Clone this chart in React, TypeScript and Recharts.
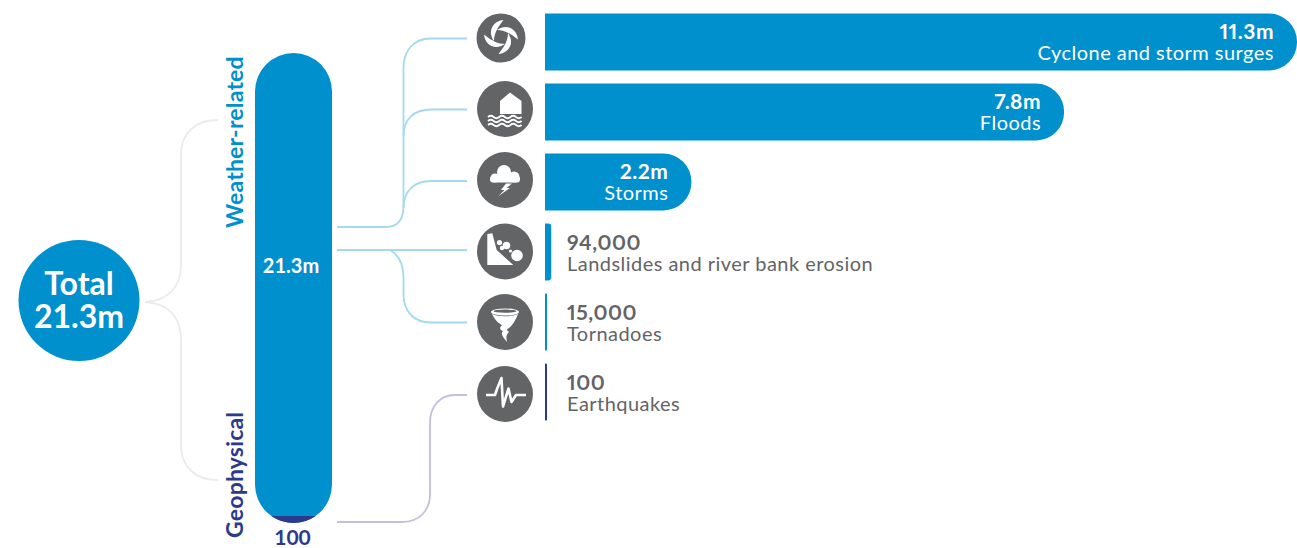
import { Bar, BarChart, Cell, LabelList, XAxis, YAxis } from 'recharts';

const hazards = [
  'Cyclone and storm surges',
  'Floods',
  'Storms',
  'Landslides and river bank erosion',
  'Tornadoes',
  'Earthquakes',
];
const displaced = [11300000, 7800000, 2200000, 94000, 15000, 100];
const displacedLabels = ['11.3m', '7.8m', '2.2m', '94,000', '15,000', '100'];

const groupName = 'Total';
const weatherTotal = 21300000;
const geophysicalTotal = 100;
const totalLabel = '21.3m';

const BLUE = '#0090cd';
const NAVY = '#2b3a8c';
const GREY = '#636466';
const FONT = 'Lato, "Open Sans", sans-serif';

const barColors = [BLUE, BLUE, BLUE, BLUE, BLUE, NAVY];
const insideCount = 3;

const hazardRows = hazards.map((name, i) => ({ name, value: displaced[i], label: displacedLabels[i] }));
const groupRows = [{ name: groupName, weather: weatherTotal, geophysical: geophysicalTotal }];

// Two line caption: inside the long bars, to the right of the short ones
function HazardLabel(props: any) {
  const { x, y, width, height, index } = props;
  const inside = index < insideCount;
  const tx = inside ? x + width - 23 : 567;
  const cy = y + height / 2 + (inside ? 0 : 0.7);
  const fill = inside ? '#fff' : GREY;
  const anchor = inside ? 'end' : 'start';
  return (
    <g fontFamily={FONT} textAnchor={anchor} fill={fill}>
      <text
        x={tx}
        y={cy - 3}
        fontSize={21}
        fontWeight={700}
        letterSpacing={0.5}
        style={{ fontVariantNumeric: 'proportional-nums' }}
      >
        {displacedLabels[index]}
      </text>
      <text x={tx} y={cy + 18} fontSize={20} letterSpacing={0.47}>
        {hazards[index]}
      </text>
    </g>
  );
}

// Segment of the pill's bottom end cap
function EndCap(props: any) {
  const { x, y, width, height } = props;
  const r = width / 2;
  const half = Math.sqrt(r * r - (r - height) * (r - height));
  const mid = x + r;
  return <path d={`M${mid - half},${y} A${r},${r} 0 0 0 ${mid + half},${y} Z`} fill={NAVY} />;
}

function Connectors() {
  return (
    <g fill="none" strokeWidth={1.8}>
      <g stroke="#a4d9f0">
        <path d="M337,227 H386 C398,227 403.5,219 403.5,206 V68 C403.5,50 414,38.5 431,38.5 H467" />
        <path d="M403.5,136 C403.5,119 414,109.5 431,109.5 H467" />
        <path d="M403.5,208 C403.5,191 414,181 431,181 H467" />
        <path d="M337,250 H467" />
        <path d="M390,250 C399,255 403.5,265 403.5,278 V294 C403.5,312 414,322.5 431,322.5 H467" />
      </g>
      <path d="M337,522 H402 C420,522 430,510 430,494 V423 C430,406 440,395 455,395 H467" stroke="#c4bee0" />
      <g stroke="#ebebeb">
        <path d="M218,120 C195,120 181,133 181,155 V265 C181,287 168,301 145,302" />
        <path d="M145,302 C168,303 181,317 181,340 V445 C181,467 195,480 218,480" />
      </g>
    </g>
  );
}

function CycloneIcon() {
  return (
    <g transform="translate(501,37)">
      <circle r={24.5} cy={1} fill={GREY} />
      {[0, 90, 180, 270].map((a) => (
        <path key={a} transform={`rotate(${a})`} d="M2.5,-17 C-8,-16 -14,-6 -7,4 C-7,-3 -4,-9 2.5,-17 Z" fill="#fff" />
      ))}
    </g>
  );
}

function FloodIcon() {
  const wave = (y: number) => `M-17,${y} q2.8,-2.4 5.6,0 t5.6,0 t5.6,0 t5.6,0 t5.6,0 t5.6,0`;
  return (
    <g transform="translate(505,109)">
      <circle r={28} fill={GREY} />
      <path d="M5,-16.5 L16.5,-8 V5 H-5 V-8 Z" fill="#fff" />
      <g fill="none" stroke="#fff" strokeWidth={1.8}>
        <path d={wave(8)} />
        <path d={wave(12)} />
        <path d={wave(16)} />
      </g>
    </g>
  );
}

function StormIcon() {
  return (
    <g transform="translate(505,180)">
      <circle r={28} fill={GREY} />
      <g fill="#fff">
        <circle cx={-1} cy={-8} r={7} />
        <circle cx={-10} cy={-2} r={4.5} />
        <circle cx={9} cy={-3} r={5.5} />
        <rect x={-15} y={-4} width={30} height={6.5} rx={3} />
        <path d="M1,3.5 L-4,10 L-0.5,10 L-7,16.5 L5,8 L1.5,8 L7,3.5 Z" />
      </g>
    </g>
  );
}

function LandslideIcon() {
  return (
    <g transform="translate(505,251.5)">
      <circle r={28} fill={GREY} />
      <g fill="#fff">
        <path d="M-17.7,-17.5 L-12.7,-18.2 L-8.3,-1.5 L8.3,13.5 H-17.7 Z" />
        <circle cx={-5.5} cy={-9} r={2.6} />
        <circle cx={-3} cy={-3.5} r={2.2} />
        <circle cx={1.5} cy={-6} r={3.8} />
        <circle cx={12} cy={4} r={5.8} />
        <circle cx={5.5} cy={-0.5} r={1.6} />
      </g>
    </g>
  );
}

function TornadoIcon() {
  return (
    <g transform="translate(505,322)">
      <circle r={28} fill={GREY} />
      <ellipse cy={-10} rx={14} ry={3.6} fill="#fff" />
      <ellipse cy={-10.8} rx={11.5} ry={1.6} fill={GREY} />
      <path
        d="M-13,-8 C-10,-2 -7,1 -3,3 C-6,6 -5,8 -2,9 C-5,12 -2,15 2,20 C1,15 1,13 4,10 C1,8 2,7 4,6 C8,3 11,-3 13,-8 C6,-5 -6,-5 -13,-8 Z"
        fill="#fff"
      />
    </g>
  );
}

function QuakeIcon() {
  return (
    <g transform="translate(505,394)">
      <circle r={28} fill={GREY} />
      <path
        d="M-19,1 H-10 L-8,-5 L-3.5,-16 L-2,12.5 L3.5,-5.5 L6.5,8 L11,1 H21"
        fill="none"
        stroke="#fff"
        strokeWidth={2.6}
        strokeLinejoin="round"
      />
    </g>
  );
}

export default function App() {
  return (
    <div style={{ position: 'absolute', left: 0, top: 0, width: 1297, height: 548, overflow: 'hidden', background: '#fff' }}>
      <svg width={1297} height={548} style={{ position: 'absolute', left: 0, top: 0 }}>
        <Connectors />
        <circle cx={79} cy={300.5} r={60.5} fill={BLUE} />
        <g fontFamily={FONT} fontWeight={700} fill="#fff" fontSize={32} textAnchor="middle">
          <text x={79} y={295}>{groupName}</text>
          <text x={79} y={328}>{totalLabel}</text>
        </g>
        <g fontFamily={FONT} fontWeight={700} fontSize={23} letterSpacing={0.2}>
          <text transform="translate(243,228) rotate(-90)" fill={BLUE}>Weather-related</text>
          <text transform="translate(243,538) rotate(-90)" fill={NAVY}>Geophysical</text>
        </g>
        <CycloneIcon />
        <FloodIcon />
        <StormIcon />
        <LandslideIcon />
        <TornadoIcon />
        <QuakeIcon />
      </svg>

      <div style={{ position: 'absolute', left: 0, top: 0 }}>
        <BarChart
          width={1297}
          height={548}
          data={hazardRows}
          layout="vertical"
          margin={{ top: 6.5, right: 0, bottom: 121.5, left: 545 }}
          barSize={57}
        >
          <XAxis type="number" domain={[0, displaced[0]]} hide />
          <YAxis type="category" dataKey="name" hide />
          <Bar dataKey="value" isAnimationActive={false} radius={[0, 28, 28, 0]} minPointSize={2}>
            {hazardRows.map((row, i) => (
              <Cell key={row.name} fill={barColors[i]} />
            ))}
            <LabelList dataKey="label" content={HazardLabel} />
          </Bar>
        </BarChart>
      </div>

      {/* Plot is wider than the pill so both bars keep their full width and overlap */}
      <div style={{ position: 'absolute', left: 205, top: 53 }}>
        <BarChart
          width={177}
          height={495}
          data={groupRows}
          margin={{ top: 0, right: 0, bottom: 25, left: 0 }}
          barSize={77}
          barGap={-77}
        >
          <XAxis type="category" dataKey="name" hide />
          <YAxis type="number" domain={[0, weatherTotal]} hide />
          <Bar dataKey="weather" fill={BLUE} radius={38.5} isAnimationActive={false}>
            <LabelList
              dataKey="weather"
              content={(p: any) => (
                <text x={p.x + p.width / 2 - 2.5} y={p.y + 220} fill="#fff" fontFamily={FONT} fontWeight={700} fontSize={20} textAnchor="middle">
                  {totalLabel}
                </text>
              )}
            />
          </Bar>
          <Bar dataKey="geophysical" shape={EndCap} minPointSize={7} isAnimationActive={false}>
            <LabelList
              dataKey="geophysical"
              content={(p: any) => (
                <text x={p.x + p.width / 2 - 1} y={p.y + p.height + 22} fill={NAVY} fontFamily={FONT} fontWeight={700} fontSize={21} textAnchor="middle">
                  {p.value}
                </text>
              )}
            />
          </Bar>
        </BarChart>
      </div>
    </div>
  );
}
